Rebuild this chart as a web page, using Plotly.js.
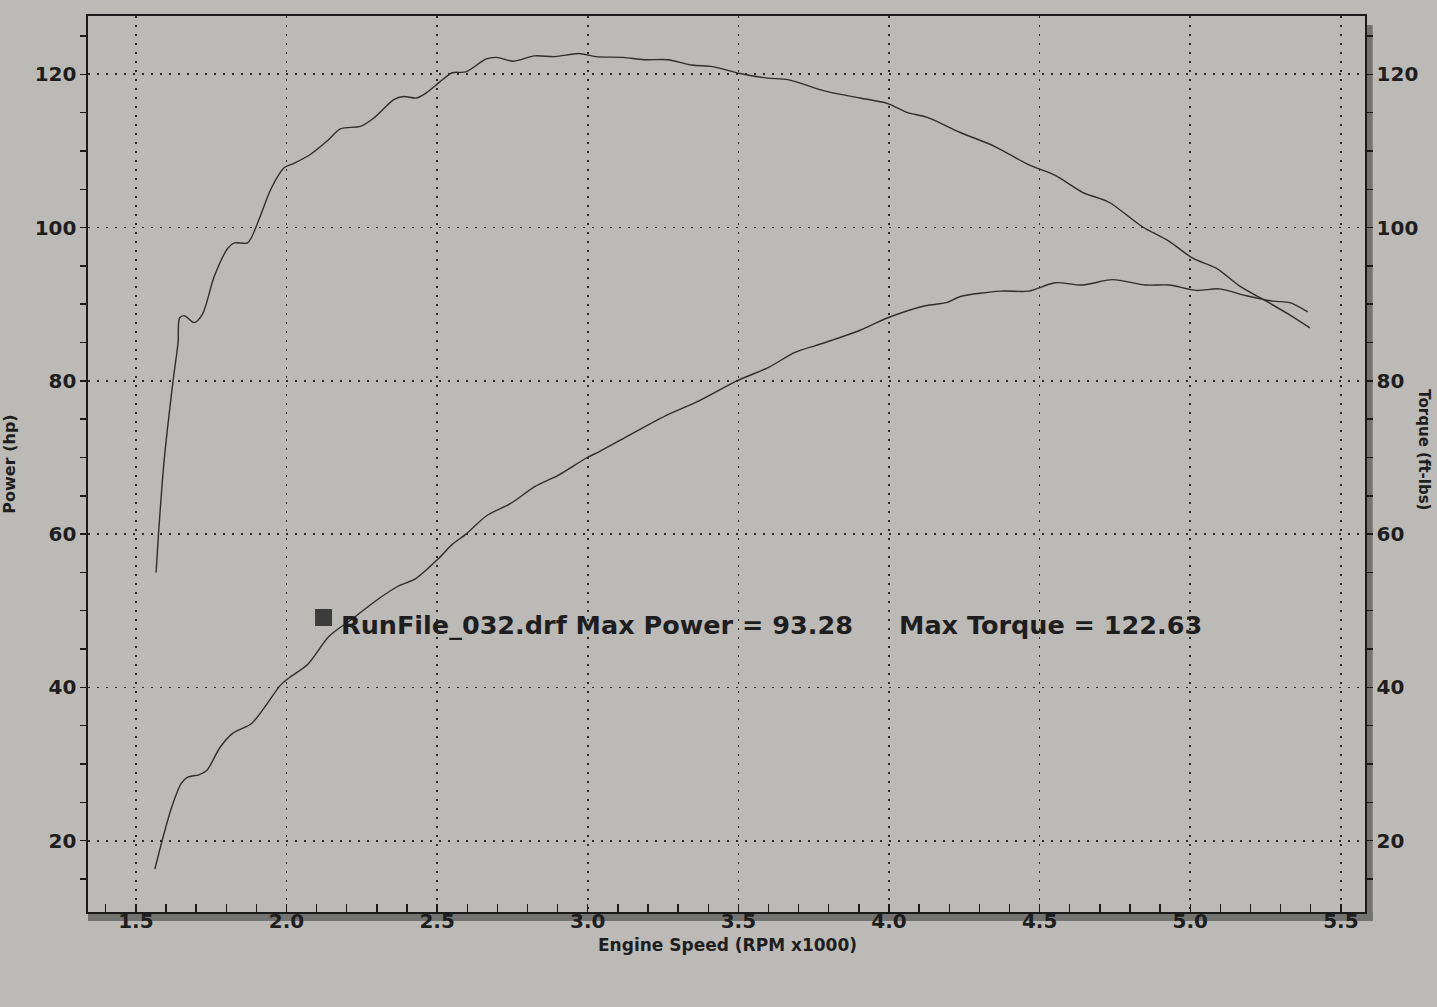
<!DOCTYPE html>
<html>
<head>
<meta charset="utf-8">
<script src="https://cdn.plot.ly/plotly-3.0.1.min.js"></script>
<style>
  html, body { margin: 0; padding: 0; background: #bbbab6; }
  #chart { width: 1437px; height: 1007px; }
</style>
</head>
<body>
<div id="chart"></div>
<script>
// Engine speed (RPM x1000) and power (hp) for the lower curve
const rpmPower = [1.563, 1.587, 1.619, 1.651, 1.672, 1.709, 1.736, 1.778, 1.821, 1.884, 1.927, 1.98, 2.01, 2.07, 2.142, 2.22, 2.307, 2.37, 2.429, 2.504, 2.551, 2.596, 2.664, 2.744, 2.824, 2.903, 2.994, 3.04, 3.119, 3.256, 3.369, 3.495, 3.597, 3.688, 3.756, 3.811, 3.904, 3.994, 4.12, 4.19, 4.237, 4.372, 4.463, 4.552, 4.642, 4.741, 4.852, 4.93, 5.02, 5.097, 5.186, 5.274, 5.33, 5.39];
const power    = [16.3, 20.0, 24.4, 27.5, 28.3, 28.6, 29.2, 32.1, 34.0, 35.3, 37.4, 40.3, 41.3, 43.0, 46.7, 49.0, 51.6, 53.2, 54.2, 56.8, 58.7, 60.0, 62.4, 64.0, 66.2, 67.7, 69.9, 70.8, 72.5, 75.4, 77.4, 80.0, 81.7, 83.7, 84.6, 85.3, 86.6, 88.2, 89.8, 90.2, 91.0, 91.7, 91.7, 92.8, 92.5, 93.2, 92.5, 92.5, 91.8, 92.0, 91.1, 90.4, 90.2, 89.0];

// Engine speed (RPM x1000) and torque (ft-lbs) for the upper curve
const rpmTorque = [1.567, 1.575, 1.593, 1.624, 1.64, 1.645, 1.661, 1.694, 1.721, 1.76, 1.805, 1.827, 1.871, 1.905, 1.949, 1.992, 2.026, 2.081, 2.135, 2.18, 2.245, 2.29, 2.356, 2.388, 2.432, 2.465, 2.509, 2.55, 2.595, 2.663, 2.697, 2.754, 2.823, 2.891, 2.97, 3.027, 3.118, 3.187, 3.266, 3.346, 3.414, 3.505, 3.596, 3.664, 3.789, 3.903, 3.994, 4.062, 4.125, 4.237, 4.35, 4.463, 4.552, 4.642, 4.73, 4.841, 4.93, 5.008, 5.086, 5.163, 5.252, 5.33, 5.397];
const torque    = [55.0, 60.0, 69.3, 80.2, 85.0, 88.2, 88.5, 87.6, 88.7, 93.6, 97.3, 98.0, 98.0, 100.7, 105.1, 107.8, 108.4, 109.6, 111.3, 112.9, 113.2, 114.3, 116.7, 117.1, 116.9, 117.6, 119.0, 120.2, 120.3, 122.0, 122.2, 121.7, 122.4, 122.3, 122.7, 122.3, 122.2, 121.9, 121.9, 121.2, 121.0, 120.1, 119.5, 119.3, 117.8, 116.9, 116.2, 115.0, 114.4, 112.4, 110.6, 108.2, 106.8, 104.6, 103.3, 100.1, 98.2, 96.0, 94.7, 92.4, 90.4, 88.6, 86.9];

const runLabel = "RunFile_032.drf Max Power = 93.28";
const torqueLabel = "Max Torque = 122.63";
const xTitle = "Engine Speed (RPM x1000)";
const yTitle = "Power (hp)";
const y2Title = "Torque (ft-lbs)";

const ink = "#1e1e1e";
const bg = "#bbbab6";
const fontFam = "DejaVu Sans, Verdana, sans-serif";

const traces = [
  { x: rpmTorque, y: torque, yaxis: "y2", type: "scatter", mode: "lines",
    line: { color: "#2e2e2e", width: 1.4, shape: "spline", smoothing: 0.8 }, showlegend: false, hoverinfo: "skip" },
  { x: rpmPower, y: power, yaxis: "y", type: "scatter", mode: "lines",
    line: { color: "#2e2e2e", width: 1.4, shape: "spline", smoothing: 0.8 }, showlegend: false, hoverinfo: "skip" }
];

const tickFont = { family: fontFam, size: 20, weight: "bold", color: ink };
const yRange = [10.7, 127.6];

const layout = {
  width: 1437, height: 1007,
  margin: { l: 88, r: 72, t: 16, b: 95, pad: 0 },
  paper_bgcolor: bg, plot_bgcolor: bg,
  font: { family: fontFam, color: ink },
  xaxis: {
    range: [1.341, 5.58], tick0: 1.5, dtick: 0.5, tickformat: ".1f",
    showgrid: true, griddash: "2px,7px", gridcolor: "#2a2a2a", gridwidth: 1.6,
    zeroline: false, showline: true, linecolor: "#1a1a1a", linewidth: 1.6, mirror: true,
    ticks: "inside", ticklen: 8, tickwidth: 1.4, tickcolor: "#1a1a1a",
    minor: { tick0: 1.5, dtick: 0.1, ticks: "inside", ticklen: 8, tickwidth: 1.4, tickcolor: "#1a1a1a", showgrid: false },
    tickfont: tickFont, ticklabelstandoff: -10
  },
  yaxis: {
    range: yRange, tick0: 0, dtick: 20,
    showgrid: true, griddash: "2px,7px", gridcolor: "#2a2a2a", gridwidth: 1.6,
    zeroline: false, showline: true, linecolor: "#1a1a1a", linewidth: 1.6,
    ticks: "outside", ticklen: 6, tickwidth: 1.4, tickcolor: "#1a1a1a",
    minor: { tick0: 0, dtick: 5, ticks: "outside", ticklen: 6, tickwidth: 1.4, tickcolor: "#1a1a1a", showgrid: false },
    tickfont: tickFont,
    title: { text: yTitle, font: { family: fontFam, size: 16, weight: "bold", color: ink }, standoff: 20 }
  },
  yaxis2: {
    range: yRange, tick0: 0, dtick: 20, overlaying: "y", side: "right",
    showgrid: false, zeroline: false, showline: true, linecolor: "#1a1a1a", linewidth: 1.6,
    ticks: "outside", ticklen: 6, tickwidth: 1.4, tickcolor: "#1a1a1a",
    minor: { tick0: 0, dtick: 5, ticks: "outside", ticklen: 6, tickwidth: 1.4, tickcolor: "#1a1a1a", showgrid: false },
    tickfont: tickFont
  },
  shapes: [
    // drop shadow under the bottom axis and beside the right axis
    { type: "rect", xref: "paper", yref: "paper", x0: 0.0, x1: 1.006, y0: -0.010, y1: 0, fillcolor: "#737371", line: { width: 0 }, layer: "below" },
    { type: "rect", xref: "paper", yref: "paper", x0: 1.0, x1: 1.006, y0: -0.010, y1: 0.99, fillcolor: "#737371", line: { width: 0 }, layer: "below" },
    // legend swatch
    { type: "rect", xref: "paper", yref: "paper", x0: 0.1778, x1: 0.1911, y0: 0.3192, y1: 0.3382, fillcolor: "#3c3c3c", line: { width: 0 } }
  ],
  annotations: [
    { text: runLabel, xref: "paper", yref: "paper", x: 0.1965, y: 0.3203, xanchor: "left", yanchor: "middle", showarrow: false,
      font: { family: fontFam, size: 25.5, weight: "bold", color: ink } },
    { text: torqueLabel, xref: "paper", yref: "paper", x: 0.6335, y: 0.3203, xanchor: "left", yanchor: "middle", showarrow: false,
      font: { family: fontFam, size: 25.5, weight: "bold", color: ink } },
    { text: xTitle, xref: "paper", yref: "paper", x: 0.5004, y: -0.0368, xanchor: "center", yanchor: "middle", showarrow: false,
      font: { family: fontFam, size: 17, weight: "bold", color: ink } },
    { text: y2Title, xref: "paper", yref: "paper", x: 1.0465, y: 0.516, xanchor: "center", yanchor: "middle", textangle: 90, showarrow: false,
      font: { family: fontFam, size: 15, weight: "bold", color: ink } }
  ]
};

Plotly.newPlot("chart", traces, layout, { staticPlot: true, displayModeBar: false });
</script>
</body>
</html>
